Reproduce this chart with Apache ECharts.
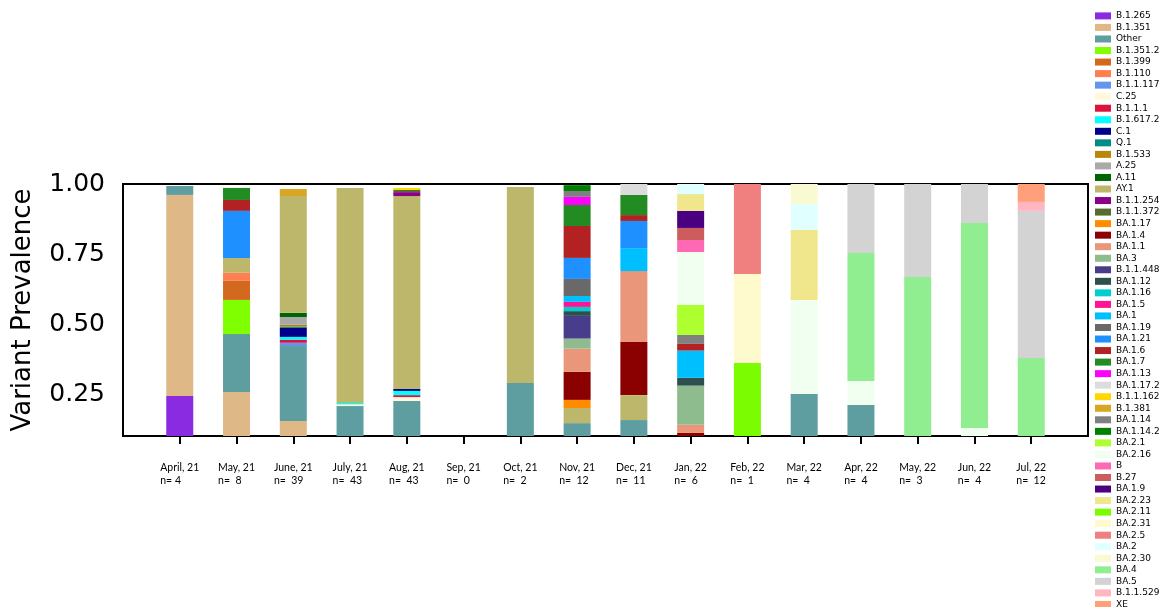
<!DOCTYPE html>
<html>
<head>
<meta charset="utf-8">
<title>Variant Prevalence</title>
<script src="https://cdn.jsdelivr.net/npm/echarts@6/dist/echarts.min.js"></script>
<style>
	* { margin: 0; padding: 0; }
	html, body { width: 100%; height: 100%; background: #fff; }
	#main { width: 1159px; height: 607px; }
</style>
</head>
<body>
<div id="main"></div>
<script type="text/javascript">
	// months on the x axis and sample counts
	var months = ['April, 21', 'May, 21', 'June, 21', 'July, 21', 'Aug, 21', 'Sep, 21', 'Oct, 21', 'Nov, 21',
		'Dec, 21', 'Jan, 22', 'Feb, 22', 'Mar, 22', 'Apr, 22', 'May, 22', 'Jun, 22', 'Jul, 22'];
	var nLabels = ['n= 4', 'n=  8', 'n=  39', 'n=  43', 'n=  43', 'n=  0', 'n=  2', 'n=  12',
		'n=  11', 'n=  6', 'n=  1', 'n=  4', 'n=  4', 'n=  3', 'n=  4', 'n=  12'];

	// variants in stacking order (bottom first) and their colours
	var variants = ['B.1.265', 'B.1.351', 'Other', 'B.1.351.2', 'B.1.399', 'B.1.110', 'B.1.1.117', 'C.25',
		'B.1.1.1', 'B.1.617.2', 'C.1', 'Q.1', 'B.1.533', 'A.25', 'A.11', 'AY.1', 'B.1.1.254', 'B.1.1.372',
		'BA.1.17', 'BA.1.4', 'BA.1.1', 'BA.3', 'B.1.1.448', 'BA.1.12', 'BA.1.16', 'BA.1.5', 'BA.1', 'BA.1.19',
		'BA.1.21', 'BA.1.6', 'BA.1.7', 'BA.1.13', 'BA.1.17.2', 'B.1.1.162', 'B.1.381', 'BA.1.14', 'BA.1.14.2',
		'BA.2.1', 'BA.2.16', 'B', 'B.27', 'BA.1.9', 'BA.2.23', 'BA.2.11', 'BA.2.31', 'BA.2.5', 'BA.2',
		'BA.2.30', 'BA.4', 'BA.5', 'B.1.1.529', 'XE'];
	var colors = ['#8A2BE2', '#DEB887', '#5F9EA0', '#7FFF00', '#D2691E', '#FF7F50', '#6495ED', '#FFF8DC',
		'#DC143C', '#00FFFF', '#00008B', '#008B8B', '#B8860B', '#A9A9A9', '#006400', '#BDB76B', '#8B008B', '#556B2F',
		'#FF8C00', '#8B0000', '#E9967A', '#8FBC8F', '#483D8B', '#2F4F4F', '#00CED1', '#FF1493', '#00BFFF', '#696969',
		'#1E90FF', '#B22222', '#228B22', '#FF00FF', '#DCDCDC', '#FFD700', '#DAA520', '#808080', '#008000',
		'#ADFF2F', '#F0FFF0', '#FF69B4', '#CD5C5C', '#4B0082', '#F0E68C', '#7CFC00', '#FFFACD', '#F08080', '#E0FFFF',
		'#FAFAD2', '#90EE90', '#D3D3D3', '#FFB6C1', '#FFA07A'];

	// share of each variant per month
	var apr21 = [['B.1.265', 0.243], ['B.1.351', 0.718], ['Other', 0.032]];
	var may21 = [['B.1.351', 0.257], ['Other', 0.207], ['B.1.351.2', 0.122], ['B.1.399', 0.068], ['B.1.110', 0.029],
		['AY.1', 0.053], ['BA.1.21', 0.168], ['BA.1.6', 0.039], ['BA.1.7', 0.043]];
	var jun21 = [['B.1.351', 0.154], ['Other', 0.267], ['B.1.1.117', 0.012], ['B.1.1.1', 0.011], ['B.1.617.2', 0.010],
		['C.1', 0.032], ['Q.1', 0.004], ['B.1.533', 0.007], ['A.25', 0.028], ['A.11', 0.015], ['AY.1', 0.417],
		['B.1.381', 0.025]];
	var jul21 = [['Other', 0.207], ['C.25', 0.006], ['B.1.617.2', 0.005], ['AY.1', 0.768]];
	var aug21 = [['Other', 0.225], ['C.25', 0.014], ['B.1.1.1', 0.007], ['B.1.617.2', 0.015], ['C.1', 0.007],
		['AY.1', 0.689], ['B.1.1.254', 0.014], ['B.1.1.372', 0.008], ['B.1.1.162', 0.007]];
	var sep21 = [];
	var oct21 = [['Other', 0.289], ['AY.1', 0.700]];
	var nov21 = [['Other', 0.146], ['AY.1', 0.054], ['BA.1.17', 0.029], ['BA.1.4', 0.100], ['BA.1.1', 0.083],
		['BA.3', 0.036], ['B.1.1.448', 0.081], ['BA.1.12', 0.017], ['BA.1.16', 0.015], ['BA.1.5', 0.018],
		['BA.1', 0.021], ['BA.1.19', 0.061], ['BA.1.21', 0.075], ['BA.1.6', 0.114], ['BA.1.7', 0.075],
		['BA.1.13', 0.029], ['BA.1.14', 0.021], ['BA.1.14.2', 0.021]];
	var dec21 = [['Other', 0.157], ['AY.1', 0.089], ['BA.1.4', 0.190], ['BA.1.1', 0.253], ['BA.1', 0.082],
		['BA.1.21', 0.097], ['BA.1.6', 0.021], ['BA.1.7', 0.072], ['BA.1.17.2', 0.039]];
	var jan22 = [['BA.1.4', 0.111], ['BA.1.1', 0.029], ['BA.3', 0.140], ['BA.1.12', 0.028], ['BA.1', 0.097],
		['BA.1.6', 0.024], ['BA.1.14', 0.032], ['BA.2.1', 0.107], ['BA.2.16', 0.189], ['B', 0.043], ['B.27', 0.043],
		['BA.1.9', 0.061], ['BA.2.23', 0.060], ['BA.2', 0.036]];
	var feb22 = [['BA.2.11', 0.361], ['BA.2.31', 0.318], ['BA.2.5', 0.321]];
	var mar22 = [['Other', 0.250], ['BA.2.16', 0.336], ['BA.2.23', 0.250], ['BA.2', 0.093], ['BA.2.30', 0.071]];
	var apr22 = [['Other', 0.211], ['BA.2.16', 0.085], ['BA.4', 0.458], ['BA.5', 0.246]];
	var may22 = [['BA.4', 0.668], ['BA.5', 0.332]];
	var jun22 = [['BA.2.16', 0.129], ['BA.4', 0.732], ['BA.5', 0.139]];
	var jul22 = [['BA.4', 0.379], ['BA.5', 0.525], ['B.1.1.529', 0.032], ['XE', 0.064]];

	var monthData = [apr21, may21, jun21, jul21, aug21, sep21, oct21, nov21,
		dec21, jan22, feb22, mar22, apr22, may22, jun22, jul22];

	var yTicks = [0.25, 0.5, 0.75, 1.0];

	function shareOf(list, name)
	{
		for (var i = 0; i < list.length; i++) {
			if (list[i][0] == name) return list[i][1];
		}
		return 0;
	}

	// one empty slot at each end so the axis runs a full step past the first and last month
	var cats = [''].concat(months).concat(['']);

	var series = [];
	for (var v = 0; v < variants.length; v++) {
		var data = ['-'];
		for (var m = 0; m < monthData.length; m++) {
			data.push(shareOf(monthData[m], variants[v]));
		}
		data.push('-');
		series.push({
			name: variants[v],
			type: 'bar',
			stack: 'total',
			barWidth: 27,
			itemStyle: { color: colors[v] },
			emphasis: { disabled: true },
			data: data
		});
	}

	function isMonth(index) {
		return index > 0 && index < cats.length - 1;
	}

	var myChart = echarts.init(document.getElementById('main'));
	var option = {
		animation: false,
		textStyle: { fontFamily: 'DejaVu Sans' },
		grid: {
			left: 123, right: 71, top: 184, bottom: 171,
			show: true, borderColor: '#000', borderWidth: 2
		},
		legend: {
			orient: 'vertical',
			left: 1095,
			top: 11.4,
			height: 600,
			padding: 0,
			itemWidth: 16,
			itemHeight: 7,
			itemGap: 2.54,
			icon: 'rect',
			selectedMode: false,
			textStyle: { fontFamily: 'DejaVu Sans', fontSize: 9, lineHeight: 8, color: '#000' },
			data: variants
		},
		xAxis: {
			type: 'category',
			data: cats,
			boundaryGap: false,
			splitLine: { show: false },
			axisLine: { lineStyle: { color: '#000', width: 2 } },
			axisTick: {
				interval: function (index) { return isMonth(index); },
				length: 8,
				lineStyle: { color: '#000', width: 2 }
			},
			axisLabel: {
				interval: 0,
				margin: 25,
				align: 'center',
				formatter: function (value, index) {
					if (!isMonth(index)) return '';
					return '{a|' + months[index - 1] + '}\n{a|' + nLabels[index - 1] + '}';
				},
				rich: {
					a: { fontFamily: 'Lato', fontSize: 10.5, lineHeight: 13, align: 'left', color: '#000' }
				}
			}
		},
		yAxis: {
			type: 'value',
			min: 0.1,
			max: 1.0,
			name: 'Variant Prevalence',
			nameLocation: 'middle',
			nameGap: 87,
			nameTextStyle: { fontFamily: 'DejaVu Sans', fontSize: 26, color: '#000' },
			splitLine: { show: false },
			axisLine: { lineStyle: { color: '#000', width: 2 } },
			axisTick: { customValues: yTicks, length: 8, lineStyle: { color: '#000', width: 2 } },
			axisLabel: {
				customValues: yTicks,
				margin: 18,
				fontFamily: 'DejaVu Sans',
				fontSize: 25,
				color: '#000',
				formatter: function (value) { return value.toFixed(2); }
			}
		},
		series: series
	};
	myChart.setOption(option);
</script>
</body>
</html>
